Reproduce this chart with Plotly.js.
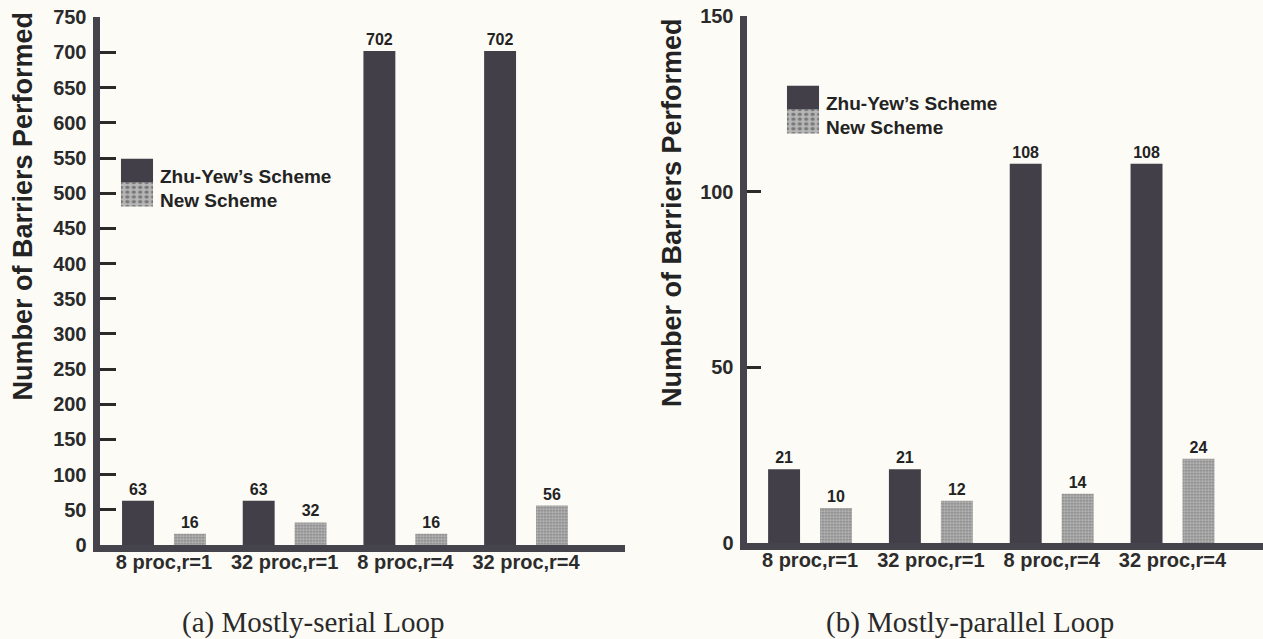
<!DOCTYPE html>
<html>
<head>
<meta charset="utf-8">
<script src="https://cdn.plot.ly/plotly-3.0.1.min.js"></script>
<style>
  html, body { margin: 0; padding: 0; background: #fcfbf6; }
  #chart { width: 1263px; height: 639px; }
</style>
</head>
<body>
<div id="chart"></div>
<script>
// ---- data ----
const categories = ['8 proc,r=1', '32 proc,r=1', '8 proc,r=4', '32 proc,r=4'];
const seriesNames = ['Zhu-Yew\u2019s Scheme', 'New Scheme'];
const serialZhuYew = [63, 63, 702, 702];
const serialNew = [16, 32, 16, 56];
const parallelZhuYew = [21, 21, 108, 108];
const parallelNew = [10, 12, 14, 24];
const panelTitles = ['(a) Mostly-serial Loop', '(b) Mostly-parallel Loop'];
const yAxisTitle = 'Number of Barriers Performed';

// ---- style ----
const W = 1263, H = 639;
const DARK = '#423f48';
const AXIS = '#45434b';
const TXT = '#232323';
const SANS = 'Liberation Sans, Arial, Helvetica, sans-serif';
const SERIF = 'Liberation Serif, Times New Roman, serif';
const px = v => v / W;
const py = v => (H - v) / H;

const lightMarker = {
  color: '#a6a6a6',
  pattern: { shape: '.', fgcolor: '#787878', bgcolor: '#b6b6b6', size: 3, solidity: 0.35 },
  line: { width: 0 }
};
const darkMarker = { color: DARK, line: { width: 0 } };
const valueFont = { family: SANS, size: 16, weight: 'bold', color: TXT };

function barTrace(name, y, marker, xa, ya, legend, show) {
  return {
    type: 'bar', name: name, x: categories, y: y,
    xaxis: xa, yaxis: ya, marker: marker, legend: legend, showlegend: show,
    texttemplate: '%{y}', textposition: 'outside', textfont: valueFont,
    cliponaxis: false, constraintext: 'none', hoverinfo: 'skip'
  };
}

const data = [
  barTrace(seriesNames[0], serialZhuYew, darkMarker, 'x', 'y', 'legend', true),
  barTrace(seriesNames[1], serialNew, lightMarker, 'x', 'y', 'legend', true),
  barTrace(seriesNames[0], parallelZhuYew, darkMarker, 'x2', 'y2', 'legend2', true),
  barTrace(seriesNames[1], parallelNew, lightMarker, 'x2', 'y2', 'legend2', true)
];

function xAxis(domain, range, anchor) {
  return {
    domain: domain, range: range, anchor: anchor, type: 'category',
    showline: true, linewidth: 7, linecolor: AXIS, mirror: false,
    ticks: '', showgrid: false, zeroline: false, fixedrange: true,
    tickfont: { family: SANS, size: 20, weight: 'bold', color: '#2c2c2c' },
    ticklabelstandoff: -7
  };
}
function yAxis(domain, range, anchor, ticklen) {
  return {
    domain: domain, range: range, anchor: anchor, dtick: 50, tick0: 0,
    showline: true, linewidth: 7, linecolor: AXIS,
    ticks: 'inside', ticklen: ticklen, tickwidth: 3, tickcolor: '#2a2a2a',
    showgrid: false, zeroline: false, fixedrange: true,
    tickfont: { family: SANS, size: 20, weight: 'bold', color: '#2a2a2a' },
    ticklabelstandoff: 2
  };
}

const legendFont = { family: SANS, size: 19, weight: 'bold', color: TXT };
const layout = {
  width: W, height: H,
  margin: { l: 0, r: 0, t: 0, b: 0 },
  paper_bgcolor: '#fcfbf6', plot_bgcolor: 'rgba(0,0,0,0)',
  barmode: 'group', bargap: 0.14, bargroupgap: 0.385,
  showlegend: true,
  xaxis: xAxis([px(99.5), px(625)], [-0.534, 3.82], 'y'),
  yaxis: yAxis([py(545), py(17.3)], [0, 750], 'x', 16),
  xaxis2: xAxis([px(746.5), 1], [-0.526, 3.749], 'y2'),
  yaxis2: yAxis([py(543), py(16.3)], [0, 150], 'x2', 14),
  legend: {
    x: px(114), y: py(157), xanchor: 'left', yanchor: 'top',
    bgcolor: 'rgba(0,0,0,0)', borderwidth: 0, font: legendFont,
    itemwidth: 36, tracegroupgap: 0, traceorder: 'normal'
  },
  legend2: {
    x: px(780), y: py(84), xanchor: 'left', yanchor: 'top',
    bgcolor: 'rgba(0,0,0,0)', borderwidth: 0, font: legendFont,
    itemwidth: 36, tracegroupgap: 0, traceorder: 'normal'
  },
  annotations: [
    { text: panelTitles[0], xref: 'paper', yref: 'paper', x: px(313), y: py(622),
      xanchor: 'center', yanchor: 'middle', showarrow: false,
      font: { family: SERIF, size: 29, color: '#2a2a2a' } },
    { text: panelTitles[1], xref: 'paper', yref: 'paper', x: px(970), y: py(622),
      xanchor: 'center', yanchor: 'middle', showarrow: false,
      font: { family: SERIF, size: 29, color: '#2a2a2a' } },
    { text: yAxisTitle, xref: 'paper', yref: 'paper', x: px(22.5), y: py(206),
      xanchor: 'center', yanchor: 'middle', textangle: -90, showarrow: false,
      font: { family: SANS, size: 27, weight: 'bold', color: TXT } },
    { text: yAxisTitle, xref: 'paper', yref: 'paper', x: px(672), y: py(213),
      xanchor: 'center', yanchor: 'middle', textangle: -90, showarrow: false,
      font: { family: SANS, size: 27, weight: 'bold', color: TXT } }
  ]
};

Plotly.newPlot('chart', data, layout, { staticPlot: true, displayModeBar: false }).then(function (gd) {
  // legend styling as in the reference: large stacked swatch blocks, tight rows
  gd.querySelectorAll('g.legend, g.legend2, g[class^="legend"]').forEach(function (lg) {
    if (!lg.querySelector('g.traces')) return;
    const items = lg.querySelectorAll('g.traces');
    items.forEach(function (it, i) {
      if (i > 0) {
        const t = it.getAttribute('transform') || '';
        const m = t.match(/translate\(\s*([-\d.]+)[ ,]+([-\d.]+)\s*\)/);
        if (m) it.setAttribute('transform', 'translate(' + m[1] + ',' + (parseFloat(m[2]) - 4 * i) + ')');
      }
    });
  });
  gd.querySelectorAll('.legendpoints path').forEach(function (p) {
    const old = p.getAttribute('transform') || '';
    p.setAttribute('transform', old + ' translate(0,-5) scale(2.67,2)');
  });
});
</script>
</body>
</html>
